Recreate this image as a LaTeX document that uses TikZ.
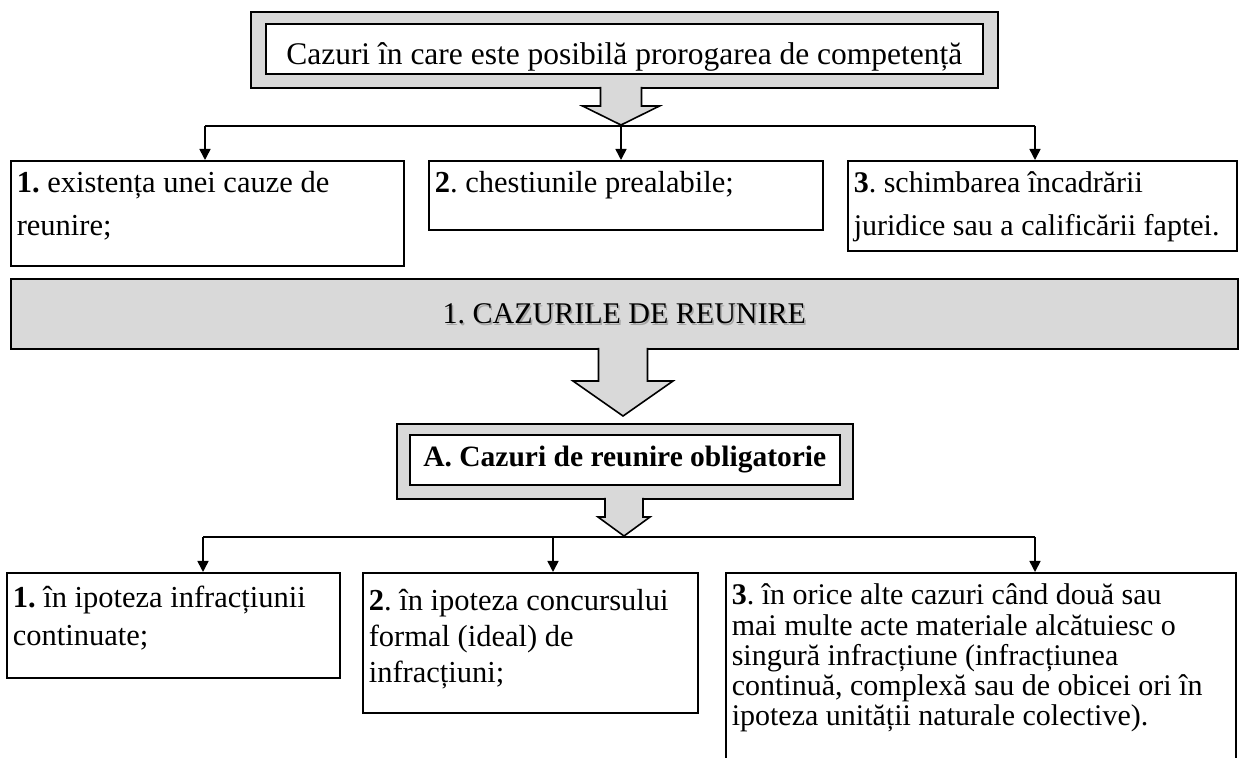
\documentclass[tikz,border=0pt]{standalone}
\usepackage{fontspec}
\setmainfont{Liberation Serif}
\usetikzlibrary{arrows.meta,positioning}
\definecolor{boxgray}{RGB}{217,217,217}
\newcommand{\shadowtxt}[1]{\makebox[0pt][l]{\hspace{1.5pt}\raisebox{-1.5pt}{\textcolor{black!35}{#1}}}#1}
\frenchspacing

\begin{document}
\begin{tikzpicture}[x=1pt, y=1pt,
  frame/.style={draw, line width=1.6pt, fill=boxgray, inner sep=0pt, anchor=north west},
  whitebox/.style={draw, line width=1.6pt, fill=white, inner sep=0pt, anchor=north west},
  casebox/.style={whitebox, align=flush left, inner xsep=6pt, font=\fontsize{30.5}{43}\selectfont},
  blockarrow/.style={fill=boxgray, draw, line width=1.6pt, line join=miter},
  link/.style={line width=1.6pt},
  drop/.style={link, -{Triangle[width=11pt,length=11pt]}}
]
\useasboundingbox (0,0) rectangle (1241,757);

% Title with gray frame
\node[frame, minimum width=747pt, minimum height=76pt] (titleframe) at (250,746) {};
\node[whitebox, minimum width=717pt, text height=41pt, text depth=9pt,
  font=\fontsize{31.5}{36}\selectfont] (title) at (265,734)
  {Cazuri în care este posibilă prorogarea de competență};

% First row of cases
\node[casebox, text width=381pt, text height=32pt, text depth=73pt] (r1a) at (10,597)
  {\textbf{1.} existența unei cauze de\\reunire;};
\node[casebox, text width=382pt, text height=32pt, text depth=37pt] (r1b) at (428,597)
  {\textbf{2}. chestiunile prealabile;};
\node[casebox, text width=377pt, text height=32pt, text depth=58pt,
  font=\fontsize{30}{43}\selectfont] (r1c) at (847,597)
  {\textbf{3}. schimbarea încadrării\\juridice sau a calificării faptei.};

% Banner
\node[frame, minimum width=1227pt, text height=45pt, text depth=25pt,
  font=\fontsize{30}{36}\selectfont] (banner) at (10,479)
  {\shadowtxt{1. CAZURILE DE REUNIRE}};

% Box A with gray frame
\node[frame, minimum width=456pt, minimum height=75pt] (aframe) at (396,334) {};
\node[whitebox, minimum width=430pt, text height=32pt, text depth=18pt,
  font=\fontsize{29.5}{34}\selectfont\bfseries] (abox) at (409,323)
  {A. Cazuri de reunire obligatorie};

% Second row of cases
\node[casebox, text width=321pt, text height=35pt, text depth=70pt,
  font=\fontsize{30.5}{38}\selectfont] (r2a) at (6,185)
  {\textbf{1.} în ipoteza infracțiunii\\continuate;};
\node[casebox, text width=323pt, text height=38pt, text depth=102pt,
  font=\fontsize{30.5}{36}\selectfont] (r2b) at (362,185)
  {\textbf{2}. în ipoteza concursului\\formal (ideal) de\\infracțiuni;};
\node[casebox, text width=498pt, text height=32pt, text depth=180pt,
  font=\fontsize{30}{30.3}\selectfont] (r2c) at (725,185)
  {\textbf{3}. în orice alte cazuri când două sau\\mai multe acte materiale alcătuiesc o\\singură infracțiune (infracțiunea\\continuă, complexă sau de obicei ori în\\ipoteza unității naturale colective).};

% Gray block arrows
\foreach \cx/\ya/\yb/\yc/\sw/\hw in {621/670/651/632/20.5/38.5, 623/409/376/341/24.5/50, 624/259/240/221/19/26}
  \filldraw[blockarrow] (\cx-\sw,\ya) -- (\cx-\sw,\yb) -- (\cx-\hw,\yb) -- (\cx,\yc)
    -- (\cx+\hw,\yb) -- (\cx+\sw,\yb) -- (\cx+\sw,\ya);

% Branch lines
\coordinate (h1w) at (205,631);
\coordinate (h1e) at (1035,631);
\draw[link] (h1w) -- (h1e);
\foreach \c/\b in {205/r1a, 621/r1b, 1035/r1c} {
  \coordinate (t) at (\c,631);
  \draw[drop] (t) -- (t |- \b.north);
}
\coordinate (h2w) at (203,220);
\coordinate (h2e) at (1035,220);
\draw[link] (h2w) -- (h2e);
\foreach \c/\b in {203/r2a, 553/r2b, 1035/r2c} {
  \coordinate (t) at (\c,220);
  \draw[drop] (t) -- (t |- \b.north);
}
\end{tikzpicture}
\end{document}
